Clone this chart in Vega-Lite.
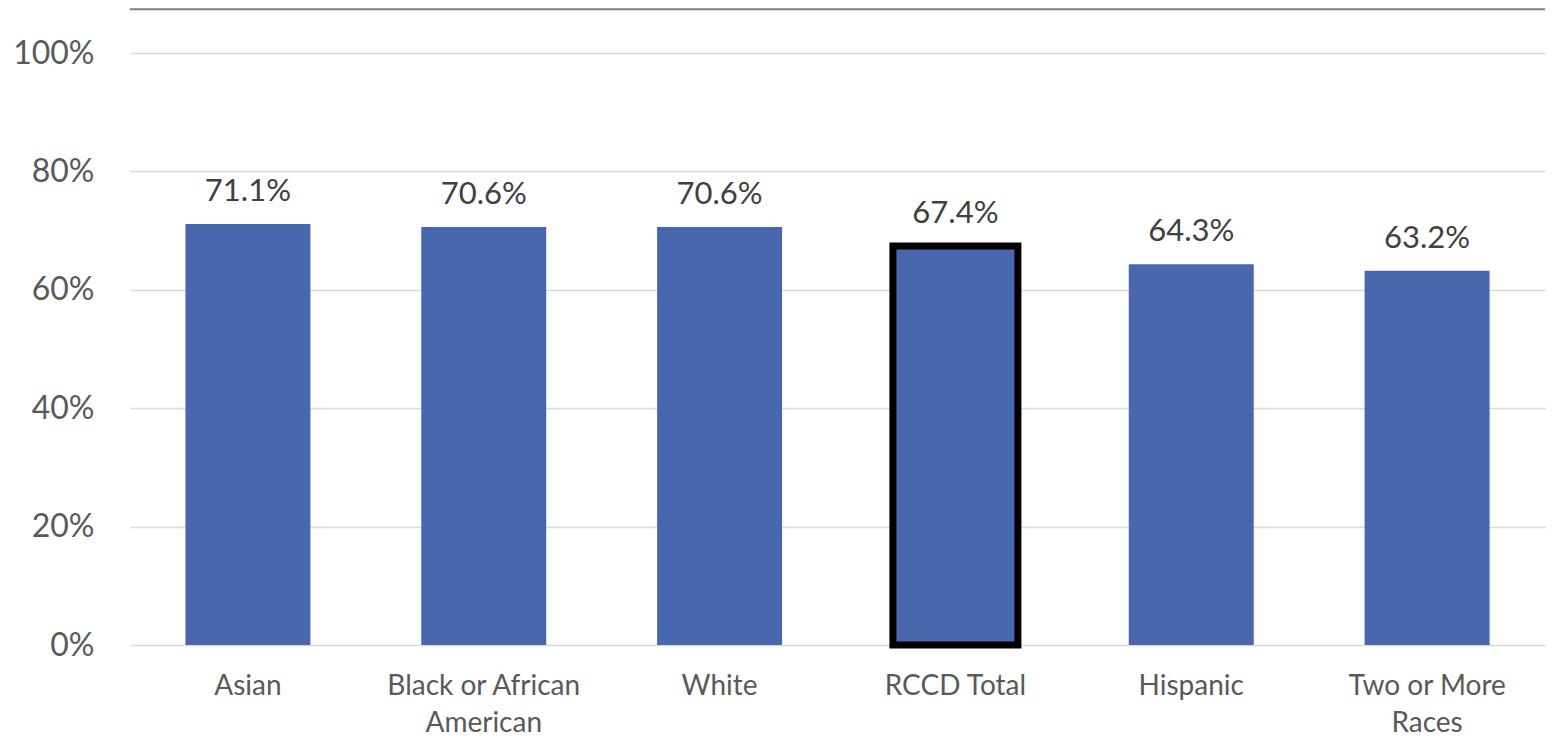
{
  "$schema": "https://vega.github.io/schema/vega-lite/v6.json",
  "width": 1415,
  "height": 592,
  "autosize": {"type": "none"},
  "padding": {"left": 130, "top": 53, "right": 10, "bottom": 93},
  "background": "white",
  "config": {
    "view": {"stroke": null},
    "font": "Lato",
    "axis": {"labelColor": "#595959", "labelFont": "Lato", "domain": false, "ticks": false}
  },
  "data": {
    "values": [
      {"group": "Asian", "rate": 0.711, "total": false},
      {"group": "Black or African\nAmerican", "rate": 0.706, "total": false},
      {"group": "White", "rate": 0.706, "total": false},
      {"group": "RCCD Total", "rate": 0.674, "total": true},
      {"group": "Hispanic", "rate": 0.643, "total": false},
      {"group": "Two or More\nRaces", "rate": 0.632, "total": false}
    ]
  },
  "encoding": {
    "x": {
      "field": "group",
      "type": "nominal",
      "sort": null,
      "scale": {"paddingInner": 0.47, "paddingOuter": 0.235},
      "axis": {
        "title": null,
        "labelAngle": 0,
        "labelFontSize": 28,
        "labelPadding": 27,
        "labelLineHeight": 37,
        "labelLimit": 0,
        "labelExpr": "split(datum.label, '\\n')"
      }
    },
    "y": {
      "field": "rate",
      "type": "quantitative",
      "scale": {"domain": [0, 1]},
      "axis": {
        "title": null,
        "format": ".0%",
        "values": [0, 0.2, 0.4, 0.6, 0.8, 1],
        "labelFontSize": 32,
        "labelPadding": 36,
        "gridColor": "#D9D9D9",
        "gridWidth": 1.5
      }
    }
  },
  "layer": [
    {
      "mark": {"type": "bar", "color": "#4967AE"},
      "encoding": {
        "stroke": {"condition": {"test": "datum.total", "value": "#000000"}, "value": null},
        "strokeWidth": {"condition": {"test": "datum.total", "value": 7}, "value": 0}
      }
    },
    {
      "mark": {"type": "text", "baseline": "alphabetic", "dy": -23, "fontSize": 31, "color": "#404040"},
      "encoding": {
        "text": {"field": "rate", "type": "quantitative", "format": ".1%"}
      }
    },
    {
      "data": {"values": [{"edge": 1.074}]},
      "mark": {"type": "rule", "color": "#7F7F7F", "strokeWidth": 2},
      "encoding": {
        "y": {"field": "edge", "type": "quantitative"},
        "x": null
      }
    }
  ]
}
